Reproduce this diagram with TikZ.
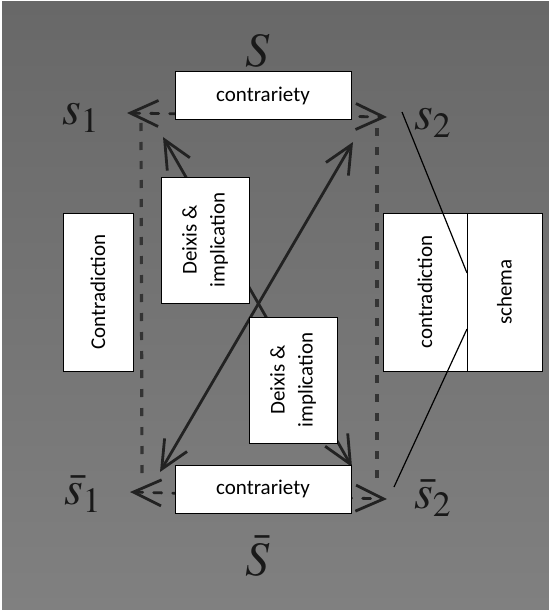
\documentclass[tikz,border=0pt]{standalone}
\usepackage{mathptmx}
\usepackage{fontspec}
\newfontfamily\boxfont{Carlito}
\usetikzlibrary{arrows.meta}
\definecolor{bgtop}{RGB}{128,128,128}
\definecolor{bgbot}{RGB}{104,104,104}
\definecolor{ink}{RGB}{34,34,34}
\definecolor{dashink}{RGB}{52,52,52}
\tikzset{
  box/.style={draw=black,line width=0.5pt,fill=white,inner sep=0pt,align=center,
    font=\boxfont\fontsize{10.5}{14}\selectfont},
  vbox/.style={box,rotate=90},
  term/.style={inner sep=0pt,text=black!90,font=\fontsize{24}{28}\selectfont},
  barbs/.style={ink,line width=1.4pt,line cap=round,
    {Straight Barb[length=14pt,width=13pt]}-{Straight Barb[length=14pt,width=13pt]}},
  barbsdash/.style={barbs,dash pattern=on 4pt off 5.5pt},
  side/.style={dashink,line width=1.6pt,dash pattern=on 4pt off 5.5pt},
  schemaline/.style={black,line width=0.6pt},
}
\begin{document}
\begin{tikzpicture}[x=0.5pt,y=-0.5pt]
\useasboundingbox (0,0) rectangle (549,610);
\fill[white] (0,0) rectangle (549,610);
% y runs downwards here, so the shading's colours are given the other way round
\shade[top color=bgbot,bottom color=bgtop] (2,2) rectangle (549,610);

% corner terms of the square
\node[term] (S) at (258,51) {$S$};
\node[term] (Sbar) at (258,556) {$\bar{S}$};
\node[term] (s1) at (81,118) {$s_1$};
\node[term] (s2) at (433,123) {$s_2$};
\node[term] (s1bar) at (83,494) {$\bar{s}_1$};
\node[term] (s2bar) at (433,498) {$\bar{s}_2$};

% arrow tips
\coordinate (tl) at (127,113);
\coordinate (tr) at (387,117);
\coordinate (bl) at (130,492);
\coordinate (br) at (387,499);
\coordinate (lt) at (141,123);
\coordinate (lb) at (142,480);
\coordinate (rt) at (377,128);
\coordinate (rb) at (377,483);
\coordinate (dA1) at (160,472);
\coordinate (dA2) at (353,142);
\coordinate (dB1) at (163,137);
\coordinate (dB2) at (352,467);

\draw[side] (lt) -- (lb);
\draw[side] (rt) -- (rb);
\draw[barbsdash] (tl) -- (tr);
\draw[barbsdash] (bl) -- (br);
\draw[barbs] (dA1) -- (dA2);
\draw[barbs] (dB1) -- (dB2);

% overlaid boxes
\node[box,minimum width=88pt,minimum height=24pt] (ctop) at (263,96) {contrariety};
\node[box,minimum width=88pt,minimum height=24pt] (cbot) at (263,489) {contrariety};
\node[vbox,minimum width=79pt,minimum height=35pt] (cleft) at (98,292) {Contradiction};
\node[vbox,minimum width=63pt,minimum height=44pt] (deix1) at (205,240) {Deixis \&\\implication};
\node[vbox,minimum width=63pt,minimum height=44pt] (deix2) at (293,380) {Deixis \&\\implication};
\node[vbox,minimum width=79pt,minimum height=42pt] (cright) at (425,292) {contradiction};
\node[vbox,minimum width=79pt,minimum height=37.5pt] (schema) at (504.5,292) {schema};

% lines to the schema box
\coordinate (sTop) at (402,112);
\coordinate (sBot) at (394,487);
\coordinate (jTop) at (467,273);
\coordinate (jBot) at (467,329);
\draw[schemaline] (sTop) -- (jTop);
\draw[schemaline] (jBot) -- (sBot);

\end{tikzpicture}
\end{document}
